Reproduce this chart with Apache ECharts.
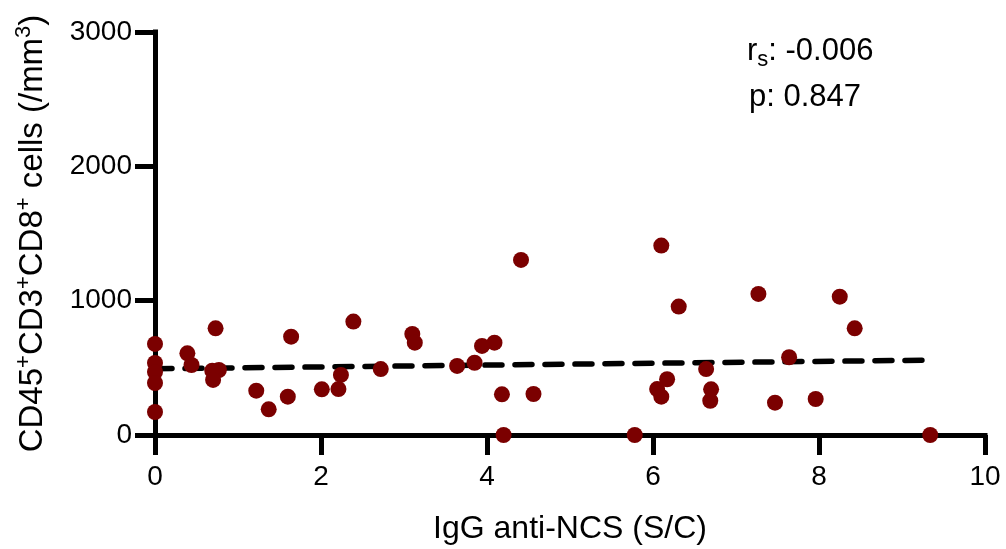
<!DOCTYPE html>
<html>
<head>
<meta charset="utf-8">
<script src="https://cdn.jsdelivr.net/npm/echarts@6/dist/echarts.min.js"></script>
<style>html,body{margin:0;padding:0;background:#fff;}#c{width:1006px;height:549px;}</style>
</head>
<body>
<div id="c"></div>
<script>
// IgG anti-NCS (S/C) values
const xValues = [0, 0, 0, 0, 0,
  0.39, 0.44, 0.73, 0.77, 0.69, 0.70, 1.22, 1.37, 1.60, 1.64, 2.01, 2.21, 2.24, 2.39, 2.72, 3.10, 3.13,
  3.64, 3.85, 3.94, 4.09, 4.41, 4.18, 4.56, 4.20, 5.78, 6.10, 6.31, 6.17, 6.05, 6.10, 6.64, 6.70, 6.69,
  7.27, 7.47, 7.64, 7.96, 8.25, 8.43, 9.34];
// CD45+CD3+CD8+ cells (/mm3)
const yValues = [678, 536, 469, 387, 171,
  608, 521, 794, 484, 479, 410, 330, 191, 285, 732, 340, 342, 447, 844, 491, 752, 687,
  514, 538, 663, 687, 1303, 303, 305, 0, 0, 1410, 956, 415, 342, 285, 491, 340, 255,
  1050, 241, 579, 268, 1030, 794, 0];
// regression line endpoints
const fitX = [0, 9.34];
const fitY = [493, 557];
const xTicks = [0, 2, 4, 6, 8, 10];
const yTicks = [0, 1000, 2000, 3000];
const statLines = ['{it|r}{sub|s}{it|: -0.006}', '{it|p: 0.847}'];

const FONT = 'Liberation Sans, Arial, Helvetica, sans-serif';
const chart = echarts.init(document.getElementById('c'), null, {renderer: 'canvas'});
const axisCommon = {
  axisLine: {show: true, onZero: false, lineStyle: {color: '#000', width: 5, cap: 'square'}},
  axisTick: {show: true, inside: false, length: 20, lineStyle: {color: '#000', width: 5}},
  splitLine: {show: false}
};
chart.setOption({
  animation: false,
  backgroundColor: '#fff',
  grid: {left: 155, right: 21, top: 32, bottom: 114, containLabel: false, outerBoundsMode: 'none'},
  xAxis: Object.assign({}, axisCommon, {
    type: 'value', min: xTicks[0], max: xTicks[xTicks.length - 1], interval: 2,
    axisLabel: {color: '#000', fontSize: 28, fontFamily: FONT, margin: 28, formatter: v => String(v)},
    name: 'IgG anti-NCS (S/C)', nameLocation: 'middle', nameGap: 78,
    nameTextStyle: {color: '#000', fontSize: 32, fontFamily: FONT}
  }),
  yAxis: Object.assign({}, axisCommon, {
    type: 'value', min: yTicks[0], max: yTicks[yTicks.length - 1], interval: 1000,
    axisLabel: {color: '#000', fontSize: 28, fontFamily: FONT, margin: 23, formatter: v => String(v)},
    name: 'CD45{sup|+}CD3{sup|+}CD8{sup|+} cells (/mm{sup|3})',
    nameLocation: 'middle', nameGap: 102, nameRotate: 90,
    nameTextStyle: {color: '#000', fontSize: 33, fontFamily: FONT, lineHeight: 40,
      rich: {sup: {fontSize: 22, fontFamily: FONT, color: '#000', verticalAlign: 'top', lineHeight: 22}}}
  }),
  series: [
    {
      type: 'line', data: fitX.map((x, i) => [x, fitY[i]]), symbol: 'none', z: 1,
      lineStyle: {color: '#000', width: 5.5, type: [17, 13], cap: 'round'}
    },
    {
      type: 'scatter', data: xValues.map((x, i) => [x, yValues[i]]), symbolSize: 16, z: 2,
      itemStyle: {color: '#7b0000', opacity: 1}
    }
  ],
  graphic: [
    {type: 'text', left: 747, top: 36, style: {text: statLines[0], fill: '#000', font: '31px ' + FONT,
      rich: {it: {fontSize: 31, fontFamily: FONT, fill: '#000'}, sub: {fontSize: 22, fontFamily: FONT, fill: '#000', verticalAlign: 'bottom', padding: [16, 0, 0, 0]}}}},
    {type: 'text', left: 749, top: 82, style: {text: statLines[1], fill: '#000', font: '31px ' + FONT,
      rich: {it: {fontSize: 31, fontFamily: FONT, fill: '#000'}}}}
  ]
});
</script>
</body>
</html>
